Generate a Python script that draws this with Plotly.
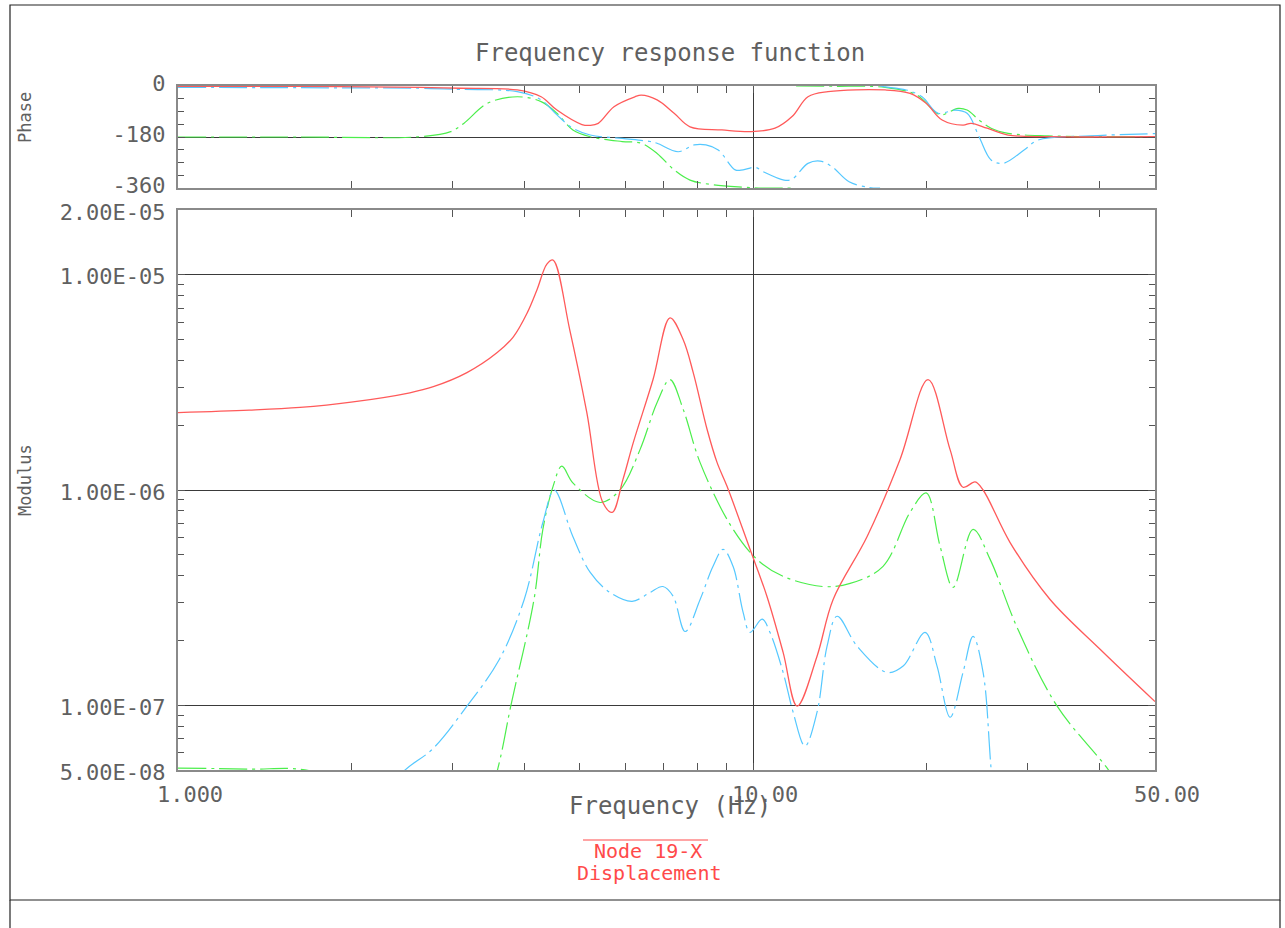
import math
import plotly.graph_objects as go

# ---------------- data ----------------
# Modulus, red (solid)
red_mod_f = [1.00, 1.33, 1.63, 2.00, 2.53, 2.78, 3.18, 3.59, 3.83, 4.05, 4.21, 4.38, 4.49, 4.80,
             5.14, 5.48, 5.69, 5.94, 6.19, 6.70, 7.17, 7.56, 7.87, 8.32, 8.66, 9.01, 9.88, 10.57, 11.28,
             11.93, 12.92, 13.78, 15.79, 18.02, 20.15, 22.01, 23.18, 24.33, 25.12, 27.99, 32.85, 40.13,
             50.0]
red_mod = [2.29e-6, 2.35e-6, 2.42e-6, 2.56e-6, 2.83e-6, 3.02e-6, 3.51e-6, 4.35e-6, 5.15e-6, 6.67e-6,
           8.52e-6, 1.12e-5, 1.17e-5, 5.55e-6, 2.29e-6, 8.75e-7, 7.87e-7, 1.12e-6, 1.66e-6,
           3.26e-6, 6.31e-6, 4.99e-6, 3.51e-6, 1.91e-6, 1.34e-6, 1.04e-6, 5.30e-7, 3.21e-7, 1.76e-7,
           9.9e-8, 1.69e-7, 3.10e-7, 6.08e-7, 1.39e-6, 3.26e-6, 1.54e-6, 1.03e-6, 1.09e-6, 1.00e-6,
           5.70e-7, 3.10e-7, 1.82e-7, 1.04e-7]

# Modulus, green (dash-dot)
green_mod_f = [1.00, 1.33, 1.70, 2.30, 3.00, 3.59, 3.79, 4.16, 4.31, 4.49, 4.65, 4.86, 5.42, 5.87, 6.36,
               6.81, 7.17, 7.56, 8.09, 9.12, 10.16, 11.28, 13.24, 14.75, 16.83, 18.75, 20.0, 21.15,
               22.28, 24.13, 25.84, 28.78, 33.79, 41.4, 50.0]
green_mod = [5.1e-8, 5.05e-8, 4.95e-8, 3.5e-8, 1.0e-8, 4.94e-8, 9.9e-8, 3.10e-7, 6.56e-7, 1.04e-6,
             1.29e-6, 1.08e-6, 8.75e-7, 1.0e-6, 1.54e-6, 2.55e-6, 3.26e-6, 2.37e-6, 1.34e-6, 6.92e-7,
             4.76e-7, 3.97e-7, 3.56e-7, 3.68e-7, 4.42e-7, 7.87e-7, 9.7e-7, 5.47e-7, 3.53e-7, 6.56e-7,
             4.76e-7, 2.30e-7, 9.9e-8, 5.05e-8, 2.5e-8]

# Modulus, blue (dash-dot)
blue_mod_f = [2.00, 2.47, 2.77, 3.18, 3.62, 4.00, 4.31, 4.51, 4.86, 5.21, 5.64, 6.16, 6.62, 6.97, 7.26,
              7.62, 8.09, 8.52, 8.87, 9.23, 9.61, 9.88, 10.37, 10.70, 11.28, 11.74, 12.31, 12.92,
              13.45, 14.0, 15.17, 17.10, 18.24, 19.91, 20.89, 22.01, 23.18, 24.13, 25.12, 25.94, 27.0]
blue_mod = [2.5e-8, 4.94e-8, 6.25e-8, 9.9e-8, 1.63e-7, 3.10e-7, 7.06e-7, 1.0e-6, 6.08e-7, 4.14e-7,
            3.34e-7, 3.04e-7, 3.34e-7, 3.56e-7, 3.21e-7, 2.20e-7, 3.10e-7, 4.42e-7, 5.30e-7, 4.42e-7,
            2.70e-7, 2.18e-7, 2.51e-7, 2.18e-7, 1.42e-7, 9.28e-8, 6.46e-8, 9.28e-8, 1.88e-7, 2.59e-7,
            1.88e-7, 1.42e-7, 1.52e-7, 2.18e-7, 1.52e-7, 8.79e-8, 1.42e-7, 2.09e-7, 1.42e-7, 5.05e-8,
            1.5e-8]

# Phase, red
red_ph_f = [1.0, 1.63, 2.63, 3.09, 3.89, 4.28, 4.56, 5.04, 5.21, 5.38, 5.73, 6.23, 6.39, 6.81, 7.29,
            7.77, 8.83, 9.92, 10.92, 11.69, 12.46, 13.5, 16.97, 18.75, 20.0, 21.32, 23.18, 23.94,
            25.53, 27.77, 32.6, 50.0]
red_ph = [-1, -1.5, -5, -8, -14, -38, -85, -136, -139, -132, -73, -38, -32, -49, -96, -144, -155, -161,
          -149, -108, -38, -20, -14, -26, -61, -120, -138, -132, -149, -173, -179, -179]

# Phase, green (wraps from -360 to 0)
green_ph_f = [1.0, 1.63, 2.63, 2.98, 3.14, 3.46, 3.89, 4.28, 4.56, 4.86, 5.21, 5.92, 6.39, 6.81, 7.29,
              7.77, 8.55, 9.61, 10.41, 11.69, None, 11.88, 13.78, 16.97, 19.28, 20.56, 21.23, 22.73,
              23.56, 24.72, 25.94, 27.77, 32.6, 50.0]
green_ph = [-180, -180, -179, -161, -132, -60, -38, -55, -96, -155, -179, -196, -202, -238, -296, -332,
            -349, -357, -360, -360, None, 0, -1, -5, -32, -85, -102, -79, -85, -120, -149, -167, -176,
            -179]

# Phase, blue (wraps from -360 to 0)
blue_ph_f = [1.0, 1.63, 2.63, 3.09, 3.89, 4.28, 4.56, 4.86, 5.21, 5.92, 6.62, 6.81, 7.41, 7.90, 8.28,
             8.70, 9.31, 9.61, 10.08, 10.41, 11.32, 11.69, 12.46, 13.08, 13.72, 14.69, 15.91, 16.63,
             None, 16.63, 16.97, 18.46, 19.67, 20.98, 22.45, 23.56, 24.72, 25.94, 27.22, 29.6, 31.3,
             38.6, 50.0]
blue_ph = [-5, -6, -8, -12, -20, -49, -102, -149, -173, -185, -196, -202, -232, -208, -208, -226, -296,
           -296, -287, -302, -332, -329, -273, -265, -285, -338, -358, -360, None, 0, -3, -14, -38, -96,
           -85, -96, -179, -261, -273, -226, -191, -176, -168]

# Axis ticks
x_tickvals = [1, 10, 50]
x_ticktext = ["1.000", "10.00", "50.00"]
x_minor = [2, 3, 4, 5, 6, 7, 8, 9, 20, 30, 40]
mod_tickvals = [5e-8, 1e-7, 1e-6, 1e-5, 2e-5]
mod_ticktext = ["5.00E-08", "1.00E-07", "1.00E-06", "1.00E-05", "2.00E-05"]
mod_minor = [6e-8, 7e-8, 8e-8, 9e-8] + [k * 1e-7 for k in range(2, 10)] + [k * 1e-6 for k in range(2, 10)]
ph_tickvals = [0, -180, -360]
ph_ticktext = ["0", "-180", "-360"]
ph_minor = [-45, -90, -135, -225, -270, -315]

# ---------------- styles ----------------
RED = "#ff5a5a"
GREEN = "#4cee4c"
BLUE = "#55c8ff"
DASHDOT = "28px,5px,3px,5px"
TXT = "#606060"
FONT = "DejaVu Sans Mono"

W, H = 1285, 928
L, R, T, B = 178, 130, 86, 158
PW, PH = W - L - R, H - T - B


def px(xp):
    return (xp - L) / PW


def py(yp):
    return (H - B - yp) / PH


fig = go.Figure()

common = dict(mode="lines", hoverinfo="skip", showlegend=False)
SM = 1.0
fig.add_trace(go.Scatter(x=green_mod_f, y=green_mod, xaxis="x", yaxis="y",
                         line=dict(color=GREEN, width=1.2, dash=DASHDOT, shape="spline", smoothing=SM), **common))
fig.add_trace(go.Scatter(x=blue_mod_f, y=blue_mod, xaxis="x", yaxis="y",
                         line=dict(color=BLUE, width=1.2, dash=DASHDOT, shape="spline", smoothing=SM), **common))
fig.add_trace(go.Scatter(x=red_mod_f, y=red_mod, xaxis="x", yaxis="y",
                         line=dict(color=RED, width=1.3, shape="spline", smoothing=SM), **common))

fig.add_trace(go.Scatter(x=green_ph_f, y=green_ph, xaxis="x2", yaxis="y2",
                         line=dict(color=GREEN, width=1.2, dash=DASHDOT, shape="spline", smoothing=SM), **common))
fig.add_trace(go.Scatter(x=blue_ph_f, y=blue_ph, xaxis="x2", yaxis="y2",
                         line=dict(color=BLUE, width=1.2, dash=DASHDOT, shape="spline", smoothing=SM), **common))
fig.add_trace(go.Scatter(x=red_ph_f, y=red_ph, xaxis="x2", yaxis="y2",
                         line=dict(color=RED, width=1.3, shape="spline", smoothing=SM), **common))

axis_common = dict(showline=True, linecolor="#8a8a8a", linewidth=2, mirror="allticks",
                   ticks="inside", ticklen=7, tickcolor="#555", tickwidth=1,
                   showgrid=True, gridcolor="#3a3a3a", gridwidth=1, zeroline=False,
                   tickfont=dict(family=FONT, size=22, color=TXT))

fig.update_layout(
    width=W, height=H,
    margin=dict(l=L, r=R, t=T, b=B),
    paper_bgcolor="white", plot_bgcolor="white",
    showlegend=False,
    xaxis=dict(type="log", range=[0, math.log10(50)], domain=[0, 1], anchor="y",
               tickmode="array", tickvals=x_tickvals, ticktext=x_ticktext,
               ticklabelshift=12, ticklabelstandoff=4,
               minor=dict(tickmode="array", tickvals=x_minor, ticks="inside", ticklen=7,
                          tickcolor="#555", showgrid=False),
               **axis_common),
    yaxis=dict(type="log", range=[math.log10(5e-8), math.log10(2e-5)], domain=[0, py(210)], anchor="x",
               tickmode="array", tickvals=mod_tickvals, ticktext=mod_ticktext,
               ticklabelstandoff=6, ticklabelshift=2,
               minor=dict(tickmode="array", tickvals=mod_minor, ticks="inside", ticklen=6,
                          tickcolor="#555", showgrid=False),
               **axis_common),
    xaxis2=dict(type="log", range=[0, math.log10(50)], domain=[0, 1], anchor="y2", matches="x",
                tickmode="array", tickvals=x_tickvals, showticklabels=False,
                minor=dict(tickmode="array", tickvals=x_minor, ticks="inside", ticklen=7,
                           tickcolor="#555", showgrid=False),
                **axis_common),
    yaxis2=dict(range=[-360, 0], domain=[py(188), 1], anchor="x2",
                tickmode="array", tickvals=ph_tickvals, ticktext=ph_ticktext,
                ticklabelstandoff=6, ticklabelshift=-3,
                minor=dict(tickmode="array", tickvals=ph_minor, ticks="inside", ticklen=6,
                           tickcolor="#555", showgrid=False),
                **axis_common),
)

ann_font = dict(family=FONT, color=TXT)
fig.add_annotation(text="Frequency response function", x=px(670), y=py(53), xref="paper", yref="paper",
                   showarrow=False, xanchor="center", yanchor="middle", font=dict(size=24, **ann_font))
fig.add_annotation(text="Phase", x=px(25), y=py(118), xref="paper", yref="paper", textangle=-90,
                   showarrow=False, xanchor="center", yanchor="middle", font=dict(size=17, **ann_font))
fig.add_annotation(text="Modulus", x=px(25), y=py(480), xref="paper", yref="paper", textangle=-90,
                   showarrow=False, xanchor="center", yanchor="middle", font=dict(size=17, **ann_font))
fig.add_annotation(text="Frequency (Hz)", x=px(670), y=py(806), xref="paper", yref="paper",
                   showarrow=False, xanchor="center", yanchor="middle", font=dict(size=24, **ann_font))
fig.add_annotation(text="Node 19-X", x=px(648), y=py(851), xref="paper", yref="paper",
                   showarrow=False, xanchor="center", yanchor="middle",
                   font=dict(family=FONT, size=20, color="#ff4a4a"))
fig.add_annotation(text="Displacement", x=px(649), y=py(873), xref="paper", yref="paper",
                   showarrow=False, xanchor="center", yanchor="middle",
                   font=dict(family=FONT, size=20, color="#ff4a4a"))

# frame and decorations
fig.add_shape(type="rect", xref="paper", yref="paper", x0=px(10), x1=px(1280), y0=py(900), y1=py(5),
              line=dict(color="#222", width=1.2), fillcolor="rgba(0,0,0,0)", layer="below")
fig.add_shape(type="line", xref="paper", yref="paper", x0=px(10), x1=px(10), y0=py(928), y1=py(900),
              line=dict(color="#222", width=1.2))
fig.add_shape(type="line", xref="paper", yref="paper", x0=px(1280), x1=px(1280), y0=py(928), y1=py(900),
              line=dict(color="#222", width=1.2))
fig.add_shape(type="line", xref="paper", yref="paper", x0=px(583), x1=px(708), y0=py(840), y1=py(840),
              line=dict(color="#ff4a4a", width=1))

fig.write_html("out.html")
